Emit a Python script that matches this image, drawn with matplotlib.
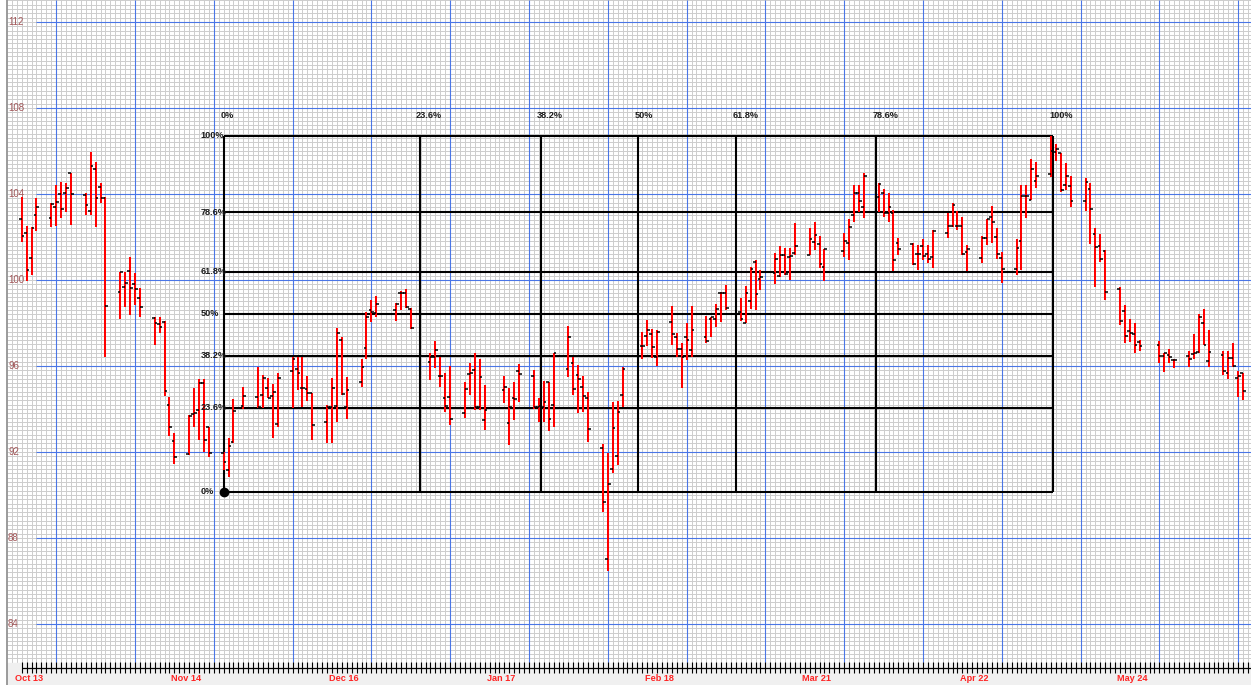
import numpy as np
import matplotlib.pyplot as plt

plt.rcParams['font.family'] = ['Liberation Sans', 'DejaVu Sans']

# calendar day of each session, counted from the first bar (one row per week)
days = [0, 1, 2, 3,
        6, 7, 8, 9, 10,
        13, 14, 15, 16, 17,
        20, 21, 22, 23, 24,
        27, 28, 29, 30, 31,
        34, 35, 36, 37, 38,
        41, 42, 43, 45,
        48, 49, 50, 51, 52,
        55, 56, 57, 58, 59,
        62, 63, 64, 65, 66,
        69, 70, 71, 72,
        76, 77, 78, 79,
        83, 84, 85, 86, 87,
        90, 91, 92, 93, 94,
        98, 99, 100, 101,
        104, 105, 106, 107, 108,
        111, 112, 113, 114, 115,
        118, 119, 120, 121, 122,
        126, 127, 128, 129,
        132, 133, 134, 135, 136,
        139, 140, 141, 142, 143,
        146, 147, 148, 149, 150,
        153, 154, 155, 156, 157,
        160, 161, 162, 163,
        167, 168, 169, 170, 171,
        174, 175, 176, 177, 178,
        181, 182, 183, 184, 185,
        188, 189, 190, 191, 192,
        195, 196, 197, 198, 199,
        202, 203, 204, 205, 206,
        209, 210, 211, 212, 213,
        216, 217, 218, 219, 220,
        223, 224, 225, 226, 227,
        231, 232, 233, 234,
        237, 238, 239, 240, 241,
        244, 245, 246, 247, 248]

opens = [102.84, 102.20, 101.01, 103.01,
         102.88, 103.38, 104.00, 104.03, 104.96,
         103.95, 103.21, 105.15, 104.34, 103.80,
         99.46, 99.69, 100.43, 99.81, 99.15,
         98.22, 97.94, 98.06, 94.19, 92.52,
         91.89, 93.77, 93.95, 95.22, 93.15,
         91.94, 91.16, 92.48, 94.14,
         94.54, 94.65, 94.96, 94.60, 93.30,
         95.78, 95.86, 94.96, 94.92, 94.76,
         93.41, 94.10, 94.14, 97.21, 94.08,
         95.27, 96.82, 98.60, 98.45,
         98.60, 99.38, 99.38, 98.64,
         96.17, 96.40, 95.53, 94.50, 94.57,
         93.83, 95.61, 95.81, 94.11, 93.49,
         94.88, 93.36, 94.52, 95.78,
         95.53, 94.08, 94.11, 95.26, 94.19,
         95.86, 96.15, 95.58, 95.04, 94.52,
         92.20, 87.01, 91.21, 91.81, 94.65,
         96.93, 97.41, 97.49, 96.40,
         98.03, 97.36, 96.77, 97.36, 96.74,
         97.33, 98.17, 98.17, 99.41, 99.38,
         98.52, 98.01, 99.02, 100.85, 100.03,
         100.31, 100.19, 101.16, 101.08, 101.24,
         101.16, 101.78, 101.67, 100.59,
         101.35, 101.73, 103.02, 104.03, 103.38,
         103.87, 104.03, 103.13, 103.13, 101.73,
         101.66, 101.20, 101.58, 101.20, 101.07,
         102.20, 102.51, 102.51, 102.51, 101.32,
         101.01, 101.97, 102.94, 102.01, 101.01,
         100.51, 101.83, 103.91, 103.72, 104.61,
         104.93, 105.95, 105.89, 104.42, 104.37,
         103.69, 104.22, 102.14, 101.58, 101.36,
         99.57, 98.57, 97.64, 97.49, 97.13,
         96.98, 96.47, 96.51, 96.28,
         96.48, 96.56, 96.67, 98.01, 96.25,
         96.51, 95.69, 96.39, 95.43, 95.66]

highs = [103.87, 102.51, 102.45, 103.80,
         103.57, 104.42, 104.57, 104.50, 104.98,
         104.05, 105.97, 105.50, 104.51, 103.85,
         100.39, 100.39, 101.08, 100.31, 99.64,
         98.29, 98.29, 98.09, 94.57, 92.87,
         93.70, 94.96, 95.38, 95.38, 93.18,
         92.00, 92.64, 94.45, 95.04,
         95.97, 95.58, 95.43, 95.16, 95.66,
         96.43, 96.43, 96.43, 95.54, 94.76,
         94.19, 95.45, 97.78, 97.36, 95.47,
         96.31, 98.53, 99.07, 99.26,
         98.94, 99.49, 99.57, 98.68,
         96.59, 97.16, 96.43, 95.66, 96.00,
         95.27, 96.15, 96.62, 96.31, 95.12,
         95.54, 94.96, 95.27, 96.08,
         95.81, 94.50, 95.30, 95.27, 96.62,
         97.86, 96.40, 96.05, 95.54, 94.80,
         92.37, 91.97, 94.34, 94.39, 95.94,
         97.60, 98.14, 97.71, 97.67,
         98.79, 97.52, 97.08, 97.99, 98.79,
         98.33, 98.29, 98.87, 99.46, 99.75,
         99.15, 99.72, 100.59, 100.93, 100.47,
         101.27, 101.58, 101.47, 101.47, 102.66,
         102.40, 102.71, 102.05, 101.43,
         102.20, 102.82, 104.42, 104.42, 104.99,
         104.53, 104.22, 104.03, 103.26, 101.94,
         101.73, 101.63, 101.89, 101.63, 102.33,
         103.10, 103.57, 103.22, 102.94, 101.63,
         102.05, 102.85, 103.44, 102.40, 101.32,
         101.91, 104.42, 104.42, 105.61, 105.50,
         106.70, 106.33, 105.89, 105.46, 104.84,
         104.73, 104.52, 102.40, 102.14, 101.40,
         99.69, 98.84, 98.19, 97.99, 97.21,
         97.16, 96.62, 96.78, 96.31,
         96.71, 97.47, 98.42, 98.64, 97.67,
         96.71, 96.71, 97.08, 95.78, 95.69]

lows = [101.78, 99.97, 100.22, 102.28,
        102.48, 102.51, 102.87, 103.18, 102.56,
        103.02, 103.02, 102.48, 103.58, 96.40,
        98.17, 98.76, 98.37, 98.84, 98.27,
        96.98, 97.55, 94.60, 92.74, 91.44,
        91.86, 93.18, 92.56, 92.01, 91.78,
        91.16, 90.82, 92.40, 93.99,
        94.03, 94.03, 94.50, 92.65, 93.18,
        94.03, 94.88, 94.08, 94.39, 92.56,
        92.42, 92.42, 93.41, 94.65, 93.52,
        95.01, 96.31, 98.06, 98.27,
        98.10, 98.60, 98.68, 97.71,
        95.35, 95.89, 95.04, 93.87, 93.26,
        93.57, 94.65, 93.95, 93.95, 93.00,
        94.29, 92.30, 93.49, 94.34,
        93.98, 93.41, 93.41, 92.99, 93.18,
        95.50, 94.65, 93.83, 93.87, 92.48,
        89.22, 86.48, 91.01, 91.40, 94.08,
        96.31, 96.93, 96.36, 96.00,
        96.98, 96.42, 94.98, 96.28, 96.42,
        97.08, 97.36, 97.83, 98.06, 98.60,
        98.10, 97.99, 98.64, 98.60, 99.53,
        99.81, 100.15, 100.23, 100.00, 101.16,
        101.16, 101.40, 100.55, 99.97,
        101.08, 100.93, 102.71, 103.18, 102.87,
        103.18, 102.94, 102.71, 100.43, 101.16,
        100.70, 100.47, 100.93, 100.78, 100.55,
        101.94, 102.48, 102.33, 101.16, 100.43,
        100.78, 101.63, 101.71, 100.96, 99.85,
        100.23, 100.47, 102.87, 103.70, 104.26,
        104.80, 105.55, 104.11, 104.19, 103.41,
        103.22, 101.67, 99.66, 100.85, 99.07,
        97.91, 97.08, 97.13, 96.62, 96.71,
        96.15, 95.74, 96.15, 95.89,
        95.97, 96.31, 96.59, 96.98, 95.97,
        95.58, 95.38, 95.97, 94.54, 94.42]

closes = [102.05, 100.47, 102.43, 103.38,
          103.52, 103.61, 103.29, 104.29, 104.00,
          103.49, 105.30, 103.80, 103.80, 98.80,
          100.39, 99.87, 99.61, 99.57, 98.73,
          98.01, 97.83, 94.85, 93.15, 91.78,
          93.67, 93.81, 95.20, 92.56, 91.94,
          91.55, 92.28, 93.92, 94.60,
          94.08, 95.45, 94.50, 94.79, 95.45,
          96.32, 95.66, 94.96, 94.76, 93.26,
          94.11, 94.96, 97.55, 94.70, 94.88,
          95.94, 98.27, 98.50, 98.88,
          98.90, 99.38, 98.76, 97.75,
          96.42, 96.74, 95.53, 94.15, 93.54,
          94.92, 95.66, 94.11, 95.50, 93.93,
          95.04, 94.11, 94.45, 95.63,
          94.08, 94.14, 94.34, 93.52, 96.59,
          97.34, 94.92, 95.38, 94.60, 93.08,
          89.66, 90.51, 93.13, 93.87, 95.86,
          96.93, 97.67, 96.87, 97.57,
          97.47, 96.77, 96.40, 97.21, 97.67,
          97.16, 98.29, 98.64, 99.38, 98.68,
          98.17, 99.41, 100.50, 99.33, 100.14,
          100.99, 101.16, 100.28, 101.12, 101.58,
          101.89, 102.09, 100.74, 101.43,
          101.83, 102.45, 104.06, 103.69, 104.85,
          104.47, 103.13, 103.38, 100.93, 101.43,
          100.74, 101.20, 101.12, 100.96, 102.29,
          102.51, 103.49, 102.51, 101.21, 101.43,
          101.97, 102.82, 102.71, 101.21, 100.51,
          101.47, 103.91, 103.91, 105.15, 104.84,
          106.01, 106.07, 104.19, 104.84, 103.69,
          104.57, 103.29, 101.51, 100.96, 99.46,
          98.10, 97.40, 97.52, 96.98, 96.93,
          96.48, 96.62, 96.40, 96.28,
          96.31, 96.62, 98.29, 96.98, 96.67,
          95.78, 96.39, 96.00, 95.54, 94.85]

date_ticks = [1, 33, 65, 97, 129, 161, 193, 225]
date_labels = ['Oct 13', 'Nov 14', 'Dec 16', 'Jan 17',
               'Feb 18', 'Mar 21', 'Apr 22', 'May 24']
price_ticks = [84, 88, 92, 96, 100, 104, 108, 112]

# retracement drawn from the swing low to the swing high
fib_levels = [0, 23.6, 38.2, 50, 61.8, 78.6, 100]
fib_days = (41.05, 209.4)
fib_prices = (90.14, 106.70)

days = np.array(days)
x_lo, x_hi = -4.41, 249.6
y_lo, y_hi = 81.16, 113.02
grid_bottom = 82.19
left_edge = -2.98

fig = plt.figure(figsize=(12.51, 6.85), dpi=100)
ax = fig.add_axes([0, 0, 1, 1])
ax.set_xlim(x_lo, x_hi)
ax.set_ylim(y_lo, y_hi)
ax.axis('off')

# paper grid
minor_y = np.arange(82.4, y_hi, 0.2)
ax.hlines(minor_y, left_edge, x_hi, color='#cdcdcd', lw=0.7, zorder=1)
ax.vlines(np.arange(-2, 250), grid_bottom, y_hi, color='#cdcdcd', lw=0.7, zorder=1)
ax.hlines(price_ticks, 2.9, x_hi, color='#4a76e6', lw=0.8, zorder=2)
ax.vlines(np.arange(7, 250, 16), grid_bottom, y_hi, color='#4a76e6', lw=0.8, zorder=2)

# date strip along the bottom
ax.axhspan(y_lo, grid_bottom, xmin=(left_edge - x_lo) / (x_hi - x_lo),
           color='#f0f0f0', zorder=3)
ax.vlines(np.arange(0, 250), 81.72, 82.23, color='black', lw=0.8, zorder=4)
ax.hlines(81.95, 0, x_hi, color='black', lw=0.9, zorder=4)
ax.axvline(left_edge, color='#8a8a8a', lw=1.2, zorder=4)

for t, lab in zip(date_ticks, date_labels):
    ax.text(t + 0.4, 81.47, lab, ha='center', va='center', color='#ff2424',
            fontsize=6.6, fontweight='bold', zorder=5)
for p in price_ticks:
    ax.text(-2.78, p, str(p), ha='left', va='center', color='#a2585a',
            fontsize=7, zorder=5)

# fibonacci box
d0, d1 = fib_days
p0, p1 = fib_prices
for lv in fib_levels:
    xv = d0 + lv / 100 * (d1 - d0)
    py = p0 + lv / 100 * (p1 - p0)
    ax.vlines(xv, p0, p1, color='black', lw=1.5, zorder=6)
    ax.hlines(py, d0, d1, color='black', lw=1.5, zorder=6)
    ax.text(xv - 0.7, 107.67, f'{lv:g}%', ha='left', va='center',
            color='#1c1c1c', fontsize=6.6, fontweight='bold', zorder=9)
    ax.text(d0 - 4.67, py, f'{lv:g}%', ha='left', va='center',
            color='#1c1c1c', fontsize=6.6, fontweight='bold', zorder=9)
ax.plot(d0, p0, 'o', color='black', ms=6, zorder=9)

# OHLC bars
ax.vlines(days, lows, highs, color='#ff0000', lw=1.45, zorder=7)
ax.hlines(opens, days - 0.55, days, color='black', lw=1.1, zorder=8)
ax.hlines(closes, days, days + 0.55, color='black', lw=1.1, zorder=8)

fig.savefig('out.png', dpi=100)
